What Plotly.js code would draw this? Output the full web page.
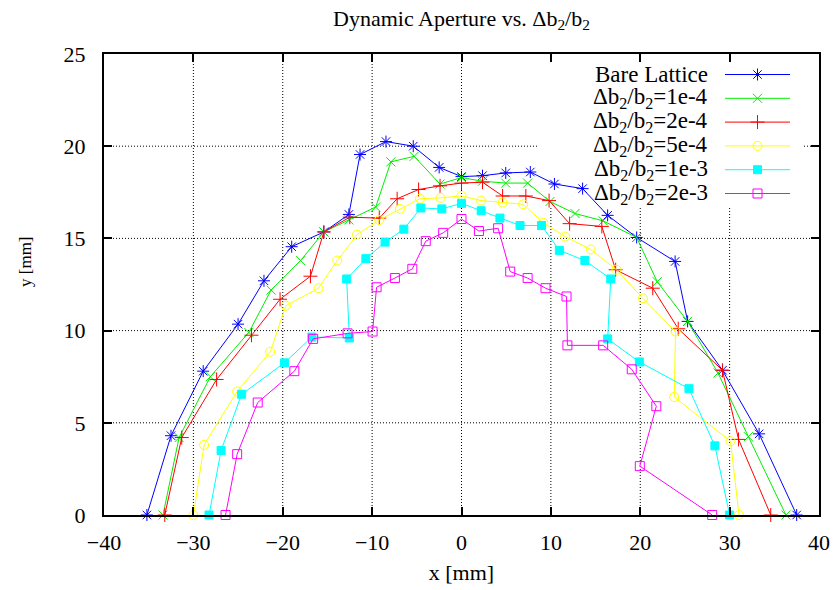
<!DOCTYPE html>
<html>
<head>
<meta charset="utf-8">
<script src="https://cdn.plot.ly/plotly-3.0.1.min.js"></script>
<style>
  html, body { margin: 0; padding: 0; background: #fff; }
  #chart { width: 834px; height: 590px; }
</style>
</head>
<body>
<div id="chart"></div>
<script>
// Dynamic aperture boundary (x, y in mm) for each b2 error level
const bareX = [-35.2, -32.5, -28.9, -25.0, -22.1, -19.0, -15.4, -12.6, -11.35, -8.45, -5.4, -2.5, 0, 2.35, 4.95, 7.7, 10.4, 13.55, 16.35, 19.6, 23.9, 25.3, 29.2, 33.3, 37.5];
const bareY = [0, 4.3, 7.8, 10.35, 12.7, 14.55, 15.35, 16.3, 19.55, 20.25, 20.0, 18.85, 18.35, 18.4, 18.55, 18.6, 17.95, 17.7, 16.25, 15.05, 13.75, 10.5, 7.85, 4.4, 0];

const b1e4X = [-33.4, -31.6, -28.1, -23.8, -21.3, -18.0, -15.4, -12.6, -9.6, -7.9, -5.3, -2.4, 0, 2.35, 4.95, 7.4, 9.9, 12.7, 15.85, 19.6, 21.9, 25.3, 28.7, 32.1, 36.3];
const b1e4Y = [0, 4.2, 7.5, 9.9, 12.2, 13.8, 15.35, 16.0, 16.7, 19.15, 19.45, 17.95, 18.3, 18.1, 18.0, 18.0, 17.0, 16.35, 15.95, 15.05, 12.65, 10.5, 7.7, 4.25, 0];

const b2e4X = [-33.2, -31.3, -27.4, -23.5, -20.3, -16.9, -15.4, -12.5, -9.2, -7.2, -4.8, -2.4, 0, 2.35, 4.6, 7.2, 9.8, 12.1, 15.7, 17.25, 21.4, 24.25, 29.2, 31.0, 34.6];
const b2e4Y = [0, 4.2, 7.35, 9.75, 11.7, 12.95, 15.35, 16.15, 16.1, 17.15, 17.65, 17.85, 18.0, 18.05, 17.3, 17.3, 17.05, 15.8, 15.65, 13.3, 12.3, 10.1, 7.85, 4.1, 0];

const b5e4X = [-30.0, -28.8, -25.1, -21.4, -19.65, -16.0, -13.9, -11.7, -9.2, -6.9, -4.65, -2.35, 0, 2.2, 4.6, 6.9, 9.15, 11.6, 14.45, 17.35, 20.3, 23.95, 23.8, 30.1, 31.05];
const b5e4Y = [0, 3.8, 6.7, 8.85, 11.35, 12.3, 13.8, 15.2, 16.0, 16.6, 17.15, 17.2, 17.3, 17.05, 16.95, 16.85, 15.85, 15.1, 14.4, 13.3, 11.75, 9.95, 6.4, 4.0, 0];

const b1e3X = [-28.25, -26.9, -24.6, -19.8, -16.75, -12.55, -12.85, -10.7, -8.55, -6.45, -4.55, -2.2, 0, 2.2, 4.3, 6.55, 8.95, 10.95, 13.8, 16.7, 16.35, 19.9, 25.45, 28.35, 30.0];
const b1e3Y = [0, 3.5, 6.55, 8.25, 9.65, 9.6, 12.8, 13.9, 14.8, 15.5, 16.65, 16.6, 16.9, 16.5, 16.1, 15.7, 15.7, 14.35, 13.8, 12.8, 9.55, 8.3, 6.85, 3.75, 0];

const b2e3X = [-26.4, -25.1, -22.8, -18.7, -16.6, -12.75, -9.95, -9.5, -7.45, -5.5, -4.0, -2.05, 0, 1.95, 4.1, 5.45, 7.4, 9.4, 11.75, 11.85, 15.85, 19.05, 21.8, 19.95, 28.05];
const b2e3Y = [0, 3.3, 6.1, 7.8, 9.55, 9.85, 9.95, 12.35, 12.85, 13.35, 14.85, 15.3, 16.05, 15.4, 15.55, 13.2, 12.85, 12.3, 11.85, 9.2, 9.2, 7.9, 5.9, 2.65, 0];

const seriesNames = [
  'Bare Lattice',
  '\u0394b<sub>2</sub>/b<sub>2</sub>=1e-4',
  '\u0394b<sub>2</sub>/b<sub>2</sub>=2e-4',
  '\u0394b<sub>2</sub>/b<sub>2</sub>=5e-4',
  '\u0394b<sub>2</sub>/b<sub>2</sub>=1e-3',
  '\u0394b<sub>2</sub>/b<sub>2</sub>=2e-3'
];

const xTickVals = [-40, -30, -20, -10, 0, 10, 20, 30, 40];
const yTickVals = [0, 5, 10, 15, 20, 25];
const xRange = [-40, 40];
const yRange = [0, 25];

// Styling (gnuplot-like palette and point types)
const colors  = ['#0000ff', '#00ee00', '#ff0000', '#ffff00', '#00ffff', '#ff00ff'];
const symbols = ['asterisk-open', 'x-thin-open', 'cross-thin-open', 'circle-open', 'square', 'square-open'];
const sizes   = [10, 9, 10, 9, 8, 9];

const FONT = 'Liberation Serif';

const xs = [bareX, b1e4X, b2e4X, b5e4X, b1e3X, b2e3X];
const ys = [bareY, b1e4Y, b2e4Y, b5e4Y, b1e3Y, b2e3Y];

// Plot-area geometry in pixels
const W = 834, H = 590;
const L = 104, R = 819, T = 54, B = 515;
const pxToX = px => xRange[0] + (px - L) / (R - L) * (xRange[1] - xRange[0]);
const pyToY = py => yRange[0] + (B - py) / (B - T) * (yRange[1] - yRange[0]);
const xToPx = v => L + (v - xRange[0]) / (xRange[1] - xRange[0]) * (R - L);
const yToPy = v => B - (v - yRange[0]) / (yRange[1] - yRange[0]) * (B - T);

const traces = xs.map((x, i) => ({
  type: 'scatter',
  mode: 'lines+markers',
  x: x,
  y: ys[i],
  name: seriesNames[i],
  line: { color: colors[i], width: 1 },
  marker: { symbol: symbols[i], size: sizes[i], color: colors[i], line: { color: colors[i], width: 1 } },
  cliponaxis: false,
  showlegend: false,
  hoverinfo: 'x+y+name'
}));

// Key: text on the left, sample line with point on the right (pixel-mapped overlay axes)
const keyRow0 = 74.5, keyStep = 23.8;
const keyLineX0 = 725, keyLineX1 = 790, keyTextX = 710;
const keyBox = { x0: 538, x1: 804, y0: T, y1: 208 };
const annotations = [];
seriesNames.forEach((name, i) => {
  const ry = keyRow0 + i * keyStep;
  traces.push({
    type: 'scatter', mode: 'lines', xaxis: 'x2', yaxis: 'y2',
    x: [keyLineX0, keyLineX1], y: [ry, ry],
    line: { color: colors[i], width: 1 }, showlegend: false, hoverinfo: 'skip'
  });
  traces.push({
    type: 'scatter', mode: 'markers', xaxis: 'x2', yaxis: 'y2',
    x: [(keyLineX0 + keyLineX1) / 2], y: [ry],
    marker: { symbol: symbols[i], size: sizes[i], color: colors[i], line: { color: colors[i], width: 1 } },
    showlegend: false, hoverinfo: 'skip', cliponaxis: false
  });
  annotations.push({
    xref: 'x2', yref: 'y2', x: keyTextX, y: ry,
    xanchor: 'right', yanchor: 'middle', showarrow: false,
    text: name, font: { family: FONT, size: 23, color: '#000' }
  });
});

// Vertical axis label, set left of the tick labels
annotations.push({
  xref: 'paper', yref: 'paper',
  x: (25 - L) / (R - L), y: (B - 262) / (B - T),
  xanchor: 'center', yanchor: 'middle', showarrow: false, textangle: -90,
  text: 'y [mm]', font: { family: FONT, size: 17, color: '#000' }
});

// Dotted grid at the interior ticks, interrupted by the key area
const gridLine = { color: '#000', width: 1, dash: '1px,2px' };
const shapes = [];
xTickVals.slice(1, -1).forEach(v => {
  const px = xToPx(v);
  const inKey = px > keyBox.x0 && px < keyBox.x1;
  shapes.push({ type: 'line', xref: 'x', yref: 'y', x0: v, x1: v, y0: yRange[0],
    y1: inKey ? pyToY(keyBox.y1) : yRange[1], line: gridLine, layer: 'below' });
});
yTickVals.slice(1, -1).forEach(v => {
  const py = yToPy(v);
  if (py > keyBox.y0 && py < keyBox.y1) {
    shapes.push({ type: 'line', xref: 'x', yref: 'y', x0: xRange[0], x1: pxToX(keyBox.x0), y0: v, y1: v, line: gridLine, layer: 'below' });
    shapes.push({ type: 'line', xref: 'x', yref: 'y', x0: pxToX(keyBox.x1), x1: xRange[1], y0: v, y1: v, line: gridLine, layer: 'below' });
  } else {
    shapes.push({ type: 'line', xref: 'x', yref: 'y', x0: xRange[0], x1: xRange[1], y0: v, y1: v, line: gridLine, layer: 'below' });
  }
});

const axisCommon = {
  showline: true, linecolor: '#000', linewidth: 2,
  mirror: 'ticks', ticks: 'inside', ticklen: 8, tickwidth: 2, tickcolor: '#000',
  showgrid: false, zeroline: false, tickmode: 'array',
  tickfont: { family: FONT, size: 22, color: '#000' }
};

const layout = {
  width: W, height: H,
  margin: { l: L, r: W - R, t: T, b: H - B, pad: 0 },
  paper_bgcolor: '#fff', plot_bgcolor: '#fff',
  showlegend: false,
  font: { family: FONT, color: '#000' },
  title: {
    text: 'Dynamic Aperture vs. \u0394b<sub>2</sub>/b<sub>2</sub>',
    font: { family: FONT, size: 22, color: '#000' },
    x: 0.5, xref: 'paper', xanchor: 'center',
    y: 1 - 18 / H, yref: 'container', yanchor: 'middle'
  },
  xaxis: Object.assign({}, axisCommon, {
    range: xRange, tickvals: xTickVals, ticklabelstandoff: 7,
    title: { text: 'x [mm]', font: { family: FONT, size: 22, color: '#000' }, standoff: 10 }
  }),
  yaxis: Object.assign({}, axisCommon, {
    range: yRange, tickvals: yTickVals, ticklabelstandoff: 12
  }),
  xaxis2: { overlaying: 'x', anchor: 'y2', range: [L, R], visible: false, fixedrange: true },
  yaxis2: { overlaying: 'y', anchor: 'x2', range: [B, T], visible: false, fixedrange: true },
  shapes: shapes,
  annotations: annotations
};

Plotly.newPlot('chart', traces, layout, { displayModeBar: false, staticPlot: true });
</script>
</body>
</html>
